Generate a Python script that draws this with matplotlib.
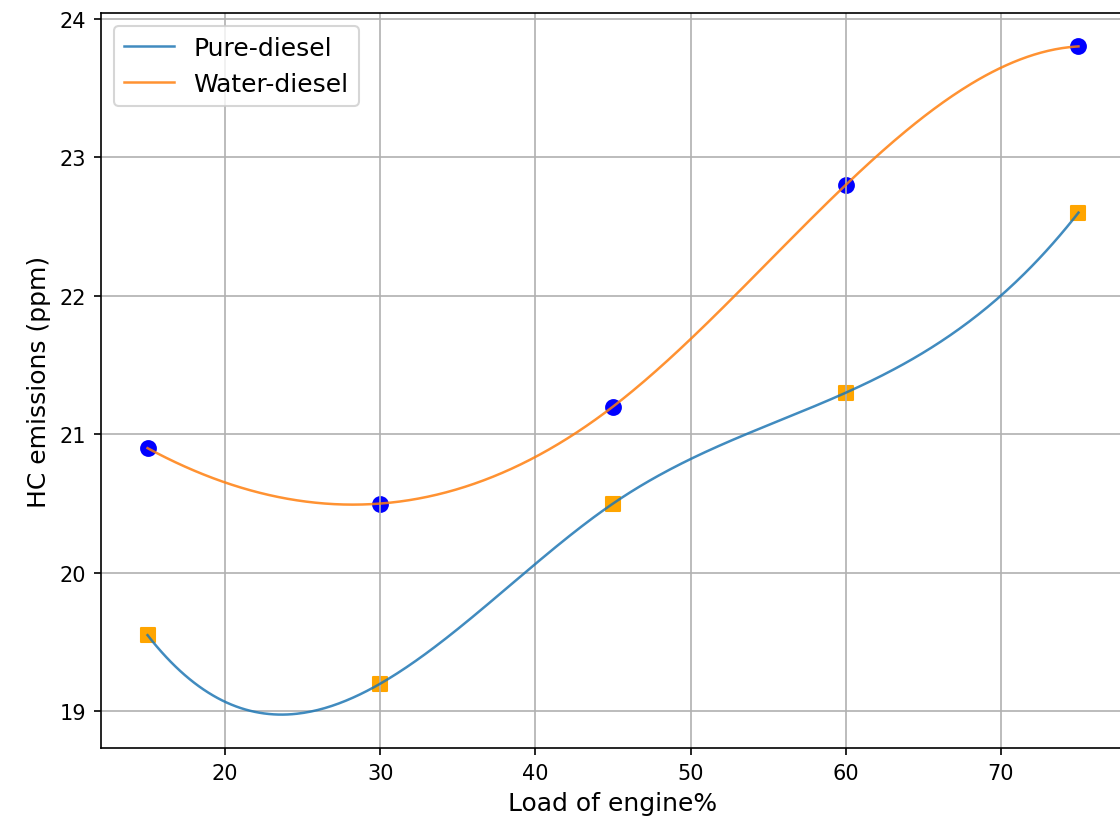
import numpy as np
import matplotlib
matplotlib.use("Agg")
import matplotlib.pyplot as plt

load = [15, 30, 45, 60, 75]
pure_diesel = [19.55, 19.2, 20.5, 21.3, 22.6]
water_diesel = [20.9, 20.5, 21.2, 22.8, 23.8]


def cubic_spline(x, y, xs):
    x = np.asarray(x, float)
    y = np.asarray(y, float)
    n = len(x)
    h = np.diff(x)
    A = np.zeros((n, n))
    b = np.zeros(n)
    # not-a-knot conditions
    A[0, 0] = -h[1]
    A[0, 1] = h[0] + h[1]
    A[0, 2] = -h[0]
    A[-1, -3] = -h[-1]
    A[-1, -2] = h[-2] + h[-1]
    A[-1, -1] = -h[-2]
    for i in range(1, n - 1):
        A[i, i - 1] = h[i - 1]
        A[i, i] = 2 * (h[i - 1] + h[i])
        A[i, i + 1] = h[i]
        b[i] = 6 * ((y[i + 1] - y[i]) / h[i] - (y[i] - y[i - 1]) / h[i - 1])
    M = np.linalg.solve(A, b)
    idx = np.clip(np.searchsorted(x, xs) - 1, 0, n - 2)
    xi, xi1 = x[idx], x[idx + 1]
    hi = h[idx]
    return (M[idx] * (xi1 - xs) ** 3 / (6 * hi)
            + M[idx + 1] * (xs - xi) ** 3 / (6 * hi)
            + (y[idx] / hi - M[idx] * hi / 6) * (xi1 - xs)
            + (y[idx + 1] / hi - M[idx + 1] * hi / 6) * (xs - xi))


xs = np.linspace(min(load), max(load), 400)

fig = plt.figure(figsize=(1120 / 150, 828 / 150), dpi=150)
ax = fig.add_axes([101 / 1120, 79 / 828, 1024 / 1120, 735 / 828])

ax.plot(xs, cubic_spline(load, pure_diesel, xs), color="C0", lw=1.2, alpha=0.85, label="Pure-diesel")
ax.plot(xs, cubic_spline(load, water_diesel, xs), color="C1", lw=1.2, alpha=0.85, label="Water-diesel")
ax.scatter(load, pure_diesel, color="orange", marker="s", s=50, zorder=1)
ax.scatter(load, water_diesel, color="blue", marker="o", s=50, zorder=1)

ax.set_xlabel("Load of engine%", fontsize=12)
ax.set_ylabel("HC emissions (ppm)", fontsize=12)
ax.legend(loc="upper left", fontsize=12)
ax.grid(True)

fig.savefig("out.png", dpi=150)
